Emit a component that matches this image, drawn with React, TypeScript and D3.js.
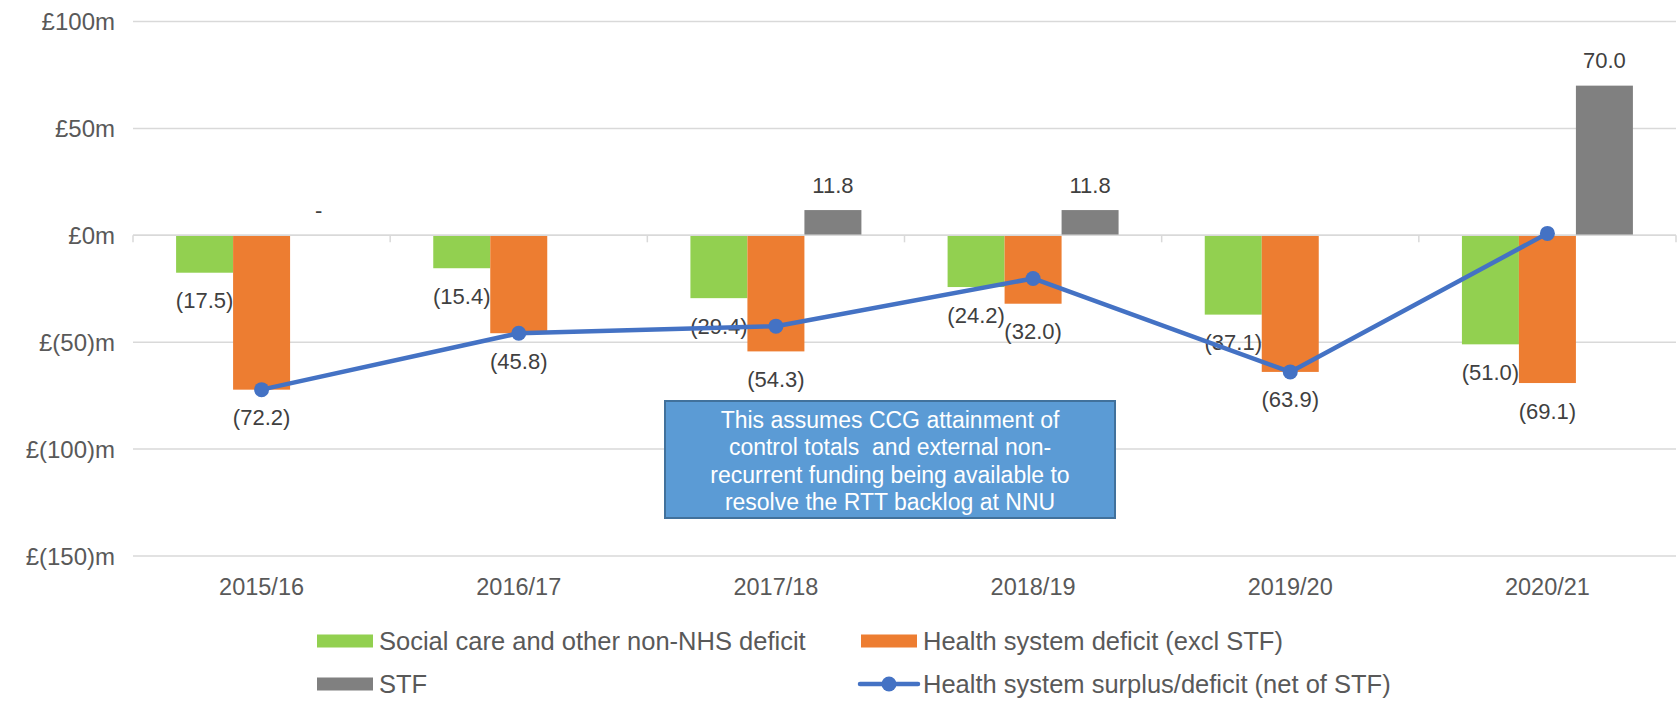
import React, { useEffect, useRef } from 'react';
import * as d3 from 'd3';

// chart values (£m)
const years = ["2015/16", "2016/17", "2017/18", "2018/19", "2019/20", "2020/21"];
const socialCare = [-17.5, -15.4, -29.4, -24.2, -37.1, -51.0];
const healthDeficit = [-72.2, -45.8, -54.3, -32.0, -63.9, -69.1];
const stf = [0, null, 11.8, 11.8, null, 70.0];
const netPosition = [-72.2, -45.8, -42.5, -20.2, -63.9, 0.9];
const yTicks = [100, 50, 0, -50, -100, -150];

const seriesKeys = ["social", "health", "stf"];
const seriesNames = [
  "Social care and other non-NHS deficit",
  "Health system deficit (excl STF)",
  "STF",
  "Health system surplus/deficit (net of STF)",
];
const colors = { social: "#92D050", health: "#ED7D31", stf: "#808080", line: "#4472C4" };

const note = [
  "This assumes CCG attainment of",
  "control totals  and external non-",
  "recurrent funding being available to",
  "resolve the RTT backlog at NNU",
];

const FONT = "'Liberation Sans', Arial, sans-serif";

function fmt(v: number) {
  if (v === 0) return "-";
  if (v < 0) return "(" + Math.abs(v).toFixed(1) + ")";
  return v.toFixed(1);
}

export default function App() {
  const ref = useRef<SVGSVGElement>(null);

  useEffect(() => {
    const svg = d3.select(ref.current);
    svg.selectAll("*").remove();

    const left = 133, right = 1676;
    const x0 = d3.scaleBand().domain(years).range([left, right]).padding(0);
    const x1 = d3.scaleBand().domain(seriesKeys).range([0, x0.bandwidth()])
      .paddingInner(0).paddingOuter(0.756);
    const y = d3.scaleLinear().domain([-150, 100]).range([556, 21.5]);

    // gridlines
    svg.append("g").selectAll("line").data(yTicks).join("line")
      .attr("x1", left).attr("x2", right)
      .attr("y1", d => y(d)).attr("y2", d => y(d))
      .attr("stroke", "#D9D9D9").attr("stroke-width", 1.5);

    // y labels
    svg.append("g").selectAll("text").data(yTicks).join("text")
      .attr("x", 115).attr("y", d => y(d))
      .attr("text-anchor", "end").attr("dominant-baseline", "central")
      .style("font-family", FONT).style("font-size", "24px").attr("fill", "#595959")
      .text(d => d < 0 ? "£(" + Math.abs(d) + ")m" : "£" + d + "m");

    const rows = years.map((yr, i) => ({
      yr, i,
      vals: [
        { key: "social", v: socialCare[i] },
        { key: "health", v: healthDeficit[i] },
        { key: "stf", v: stf[i] },
      ],
    }));

    // bars
    const groups = svg.append("g").selectAll("g").data(rows).join("g")
      .attr("transform", d => "translate(" + x0(d.yr) + ",0)");
    groups.selectAll("rect").data(d => d.vals.filter(v => v.v !== null && v.v !== 0)).join("rect")
      .attr("x", d => x1(d.key))
      .attr("width", x1.bandwidth())
      .attr("y", d => Math.min(y(d.v), y(0)))
      .attr("height", d => Math.abs(y(d.v) - y(0)))
      .attr("fill", d => colors[d.key]);

    // zero axis with category ticks
    svg.append("line")
      .attr("x1", left).attr("x2", right).attr("y1", y(0)).attr("y2", y(0))
      .attr("stroke", "#D9D9D9").attr("stroke-width", 1.5);
    const bounds = years.map(d => x0(d)).concat([right]);
    svg.append("g").selectAll("line").data(bounds).join("line")
      .attr("x1", d => d).attr("x2", d => d)
      .attr("y1", y(0)).attr("y2", y(0) + 7)
      .attr("stroke", "#D9D9D9").attr("stroke-width", 1.5);

    // x labels
    svg.append("g").selectAll("text").data(years).join("text")
      .attr("x", d => x0(d) + x0.bandwidth() / 2).attr("y", 587)
      .attr("text-anchor", "middle").attr("dominant-baseline", "central")
      .style("font-family", FONT).style("font-size", "23.5px").attr("fill", "#595959")
      .text(d => d);

    // net position line
    const cx = (i: number) => x0(years[i]) + x0.bandwidth() / 2;
    const line = d3.line<number>().x((d, i) => cx(i)).y(d => y(d));
    svg.append("path")
      .attr("d", line(netPosition))
      .attr("fill", "none").attr("stroke", colors.line).attr("stroke-width", 4.5)
      .attr("stroke-linejoin", "round");
    svg.append("g").selectAll("circle").data(netPosition).join("circle")
      .attr("cx", (d, i) => cx(i)).attr("cy", d => y(d)).attr("r", 7.5)
      .attr("fill", colors.line);

    // data labels
    groups.selectAll("text").data(d => d.vals.filter(v => v.v !== null)).join("text")
      .attr("x", d => x1(d.key) + x1.bandwidth() / 2)
      .attr("y", d => d.v < 0 ? y(d.v) + 28 : y(d.v) - 25)
      .attr("text-anchor", "middle").attr("dominant-baseline", "central")
      .style("font-family", FONT).style("font-size", "22px").attr("fill", "#404040")
      .text(d => fmt(d.v));

    // note box
    const box = svg.append("g");
    box.append("rect")
      .attr("x", 665).attr("y", 401).attr("width", 450).attr("height", 117)
      .attr("fill", "#5B9BD5").attr("stroke", "#41719C").attr("stroke-width", 2);
    box.selectAll("text").data(note).join("text")
      .attr("x", 890).attr("y", (d, i) => 419.5 + i * 27.5)
      .attr("text-anchor", "middle").attr("dominant-baseline", "central")
      .style("font-family", FONT).style("font-size", "23px").style("white-space", "pre")
      .attr("fill", "#fff")
      .text(d => d);

    // legend
    const legend = [
      { name: seriesNames[0], kind: "rect", color: colors.social, x: 317, y: 641 },
      { name: seriesNames[1], kind: "rect", color: colors.health, x: 861, y: 641 },
      { name: seriesNames[2], kind: "rect", color: colors.stf, x: 317, y: 684 },
      { name: seriesNames[3], kind: "line", color: colors.line, x: 861, y: 684 },
    ];
    const le = svg.append("g").selectAll("g").data(legend).join("g")
      .attr("transform", d => "translate(" + d.x + "," + d.y + ")");
    le.filter(d => d.kind === "rect").append("rect")
      .attr("x", 0).attr("y", -6.5).attr("width", 56).attr("height", 13)
      .attr("fill", d => d.color);
    le.filter(d => d.kind === "line").append("line")
      .attr("x1", -1).attr("x2", 57).attr("y1", 0).attr("y2", 0)
      .attr("stroke", d => d.color).attr("stroke-width", 4.5).attr("stroke-linecap", "round");
    le.filter(d => d.kind === "line").append("circle")
      .attr("cx", 28).attr("cy", 0).attr("r", 7.5).attr("fill", d => d.color);
    le.append("text")
      .attr("x", 62).attr("y", 0).attr("dominant-baseline", "central")
      .style("font-family", FONT).style("font-size", "25.5px").attr("fill", "#595959")
      .text(d => d.name);
  }, []);

  return (
    <div style={{ position: "absolute", left: 0, top: 0 }}>
      <svg ref={ref} width={1678} height={701} style={{ display: "block", background: "#fff" }} />
    </div>
  );
}
